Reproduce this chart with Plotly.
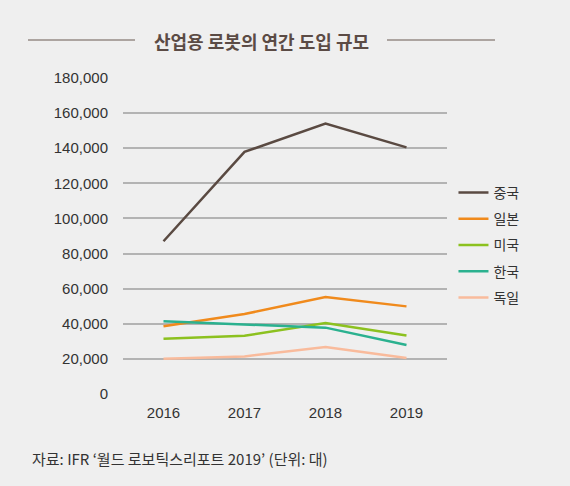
import plotly.graph_objects as go

years = ["2016", "2017", "2018", "2019"]
china = [87000, 137920, 154032, 140500]
japan = [38586, 45566, 55240, 49908]
usa = [31404, 33192, 40373, 33339]
korea = [41373, 39732, 37807, 27873]
germany = [20074, 21404, 26723, 20473]

series_names = ["중국", "일본", "미국", "한국", "독일"]
series_values = [china, japan, usa, korea, germany]
colors = ["#5a4a42", "#f08a1c", "#8cc11f", "#2bb18f", "#f9bb9c"]

y_ticks = list(range(0, 180001, 20000))
y_tick_labels = [f"{v:,}" for v in y_ticks]

FONT = "Noto Sans CJK KR"
NUMFONT = "Liberation Sans"

L, R, T, B = 123, 123, 78, 92
W, H = 570, 486
pw, ph = W - L - R, H - T - B


def px(x):
    return (x - L) / pw


def py(y):
    return (H - B - y) / ph


fig = go.Figure()
for i, (name, vals, col) in enumerate(zip(series_names, series_values, colors)):
    fig.add_trace(go.Scatter(
        x=years, y=vals, name=name, mode="lines",
        line=dict(color=col, width=2.5),
        legendgroup=f"g{i}",
    ))

fig.update_layout(
    width=W, height=H,
    margin=dict(l=L, r=R, t=T, b=B),
    paper_bgcolor="#efefef", plot_bgcolor="#efefef",
    font=dict(family=FONT, size=14, color="#333333"),
    showlegend=True,
    legend=dict(
        x=1.02, y=py(245), xanchor="left", yanchor="middle",
        font=dict(size=14, color="#333333", family=FONT),
        bgcolor="rgba(0,0,0,0)", tracegroupgap=5,
        itemwidth=30,
    ),
    xaxis=dict(
        type="category", range=[-0.5, 3.5],
        showgrid=False, zeroline=False, showline=False,
        ticks="", ticklabelstandoff=8,
        tickfont=dict(size=15, color="#333333", family=NUMFONT),
    ),
    yaxis=dict(
        range=[0, 180000], tickvals=y_ticks, ticktext=y_tick_labels,
        showgrid=True, gridcolor="#b3b3b3", gridwidth=1.5,
        zeroline=False, showline=False, ticks="",
        ticklabelstandoff=14,
        tickfont=dict(size=15, color="#333333", family=NUMFONT),
    ),
    annotations=[
        dict(text="<b>산업용 로봇의 연간 도입 규모</b>", x=px(261), y=py(41),
             xref="paper", yref="paper", xanchor="center", yanchor="middle",
             showarrow=False,
             font=dict(size=18, color="#5b4b45", family=FONT)),
        dict(text="자료: IFR ‘월드 로보틱스리포트 2019’ (단위: 대)", x=px(30), y=py(458),
             xref="paper", yref="paper", xanchor="left", yanchor="middle",
             showarrow=False,
             font=dict(size=15, color="#333333", family=FONT)),
    ],
)

for x0, x1 in [(28, 135), (387, 495)]:
    fig.add_shape(type="line", xref="paper", yref="paper",
                  x0=px(x0), x1=px(x1), y0=py(40), y1=py(40),
                  line=dict(color="#6b5a52", width=1.2))

fig.write_html("out.html",
               config={"displayModeBar": False},
               post_script="document.body.style.margin='0';document.body.style.background='#efefef';")
